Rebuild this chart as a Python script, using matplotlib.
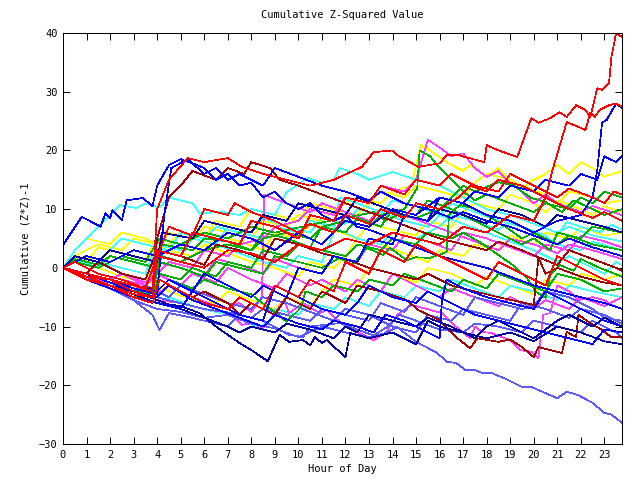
import matplotlib
matplotlib.use('Agg')
import matplotlib.pyplot as plt

# each walk: hours of the vertices and cumulative (Z*Z)-1 values
red1_h = [0, 1, 2, 3, 3.8, 4, 4.5, 5.3, 6, 7, 7.6, 8.5, 9.5, 10.5, 11.5, 12.7, 13.2, 14, 14.2, 15.1, 16, 16.3, 16.8, 17.9, 18, 18.5, 19.3, 19.9, 20.2, 20.7, 21.1, 21.4, 21.8, 22.2, 22.4, 22.7, 22.9, 23.2, 23.3, 23.5, 23.75]
red1_v = [0, -1, -2, -3, -4, 10, 15, 18.7, 18, 18.7, 17.2, 16, 15, 14, 15, 17.2, 19.7, 20, 19.2, 17.2, 17.8, 19.2, 19.2, 18, 20.9, 20, 18.9, 25.5, 24.7, 25.5, 26.5, 25.7, 27.7, 26.9, 25.7, 30.6, 30.3, 31.5, 35.9, 40, 39.3]
red2_h = [0, 1, 2, 3, 3.8, 4, 5, 6, 7, 8, 9, 10, 11, 12, 13, 14, 15, 16, 17, 18, 19, 20, 20.5, 20.8, 21.4, 21.9, 22.2, 22.4, 22.6, 22.8, 23.2, 23.5, 23.75]
red2_v = [0, -1.5, -2, -4, -5, 2, 1, 0, 3, 2.5, 1, 4, 3, 5, 4, 6, 5, 4, 7, 6, 9, 8, 12, 16.7, 24.8, 24, 23.5, 26.4, 25.7, 26.9, 27.7, 28, 27.5]
red3_h = [0, 1, 2, 3, 3.8, 4, 5, 5.5, 6.5, 7.5, 8, 9, 10, 10.5, 11.5, 12, 13, 13.5, 14.5, 15, 16, 16.5, 17.5, 18.5, 19, 20, 21, 21.5, 22.5, 23, 23.4, 23.75]
red3_v = [0, -2, -3, -4.5, -5, 3, 2, 6, 5, 4, 8, 7, 5, 9, 8, 12, 11, 14, 12.5, 15, 14, 16, 14, 13, 16, 14, 12, 13.5, 12, 11, 13, 12.5]
red4_h = [0, 1, 2, 3, 3.8, 4.1, 5, 6, 7, 7.5, 8.5, 9, 10, 10.5, 11.5, 12, 13, 13.5, 14.5, 15, 16, 17, 18, 18.5, 19.5, 20.5, 21, 22, 23, 23.75]
red4_v = [0, -1.5, -3, -5, -6, -2, -4, -6, -7, -5, -7, -3, -5, -2, -4, 1, -1, 3, 1, 4, 2, 0, -2, 1, -1, -3, 2, 0, -2, -3]
red5_h = [0, 0.5, 1.5, 2.5, 3.5, 4, 4.5, 5.5, 6, 7, 7.3, 8, 9, 10, 10.5, 11.5, 12, 13, 13.5, 14.5, 15, 16, 16.8, 17.3, 18, 18.5, 19.5, 20.5, 21.5, 22.5, 23, 23.75]
red5_v = [0, 1, -1, -2, -3.5, 2, 7, 5.5, 10, 9, 11, 9.5, 8, 6, 7.5, 6, 9, 7.5, 10, 8.5, 11, 10, 12, 14, 13, 15, 14, 12, 10, 8.5, 9.5, 8]

dred1_h = [0, 1, 2, 3, 4, 4.5, 5.5, 6, 7, 7.5, 8, 9, 9.5, 10.5, 11, 12, 12.5, 13.5, 14.6, 15.1, 16, 16.7, 17.3, 17.6, 18.5, 19, 19.5, 20, 20.2, 21.2, 21.4, 21.8, 21.9, 22.5, 22.8, 23.3, 23.75]
dred1_v = [0, -1, -2.5, -4, -5, -3, -5, -4, -6, -8, -6, -8, -5, -7, -4, -6, -3, -4, -5.5, -7.2, -8.9, -11.8, -13.7, -12, -12.6, -12.2, -13.5, -15.2, -13.5, -14.5, -10.9, -11.8, -8, -9.7, -10.3, -11.8, -11.8]
dred2_h = [0, 1, 2, 3, 3.8, 4, 4.5, 5, 5.5, 6.5, 7, 7.7, 8, 8.8, 9.2, 10, 11, 12, 13, 14, 15, 16, 17, 18, 18.5, 19.5, 20.2, 20.5, 21, 22, 23, 23.75]
dred2_v = [0, -1, -2, -3, -3.5, 5, 12, 14, 16.5, 15, 17, 16, 18, 17, 15, 14, 12.5, 11, 9.5, 8, 6.5, 5, 4, 3, 4.5, 3, 1.8, -1, 0, -1.5, -2.5, -3]
dred3_h = [0, 1, 1.5, 2.5, 3.5, 4, 5, 6, 6.5, 7.5, 8.5, 9, 10, 11, 12, 13, 14, 15, 15.5, 16.5, 17.5, 18.5, 20, 20.2, 21, 21.5, 22.5, 23.5, 23.75]
dred3_v = [0, -1, 1, -1, -2, 3, 2, 0.5, 4, 3, 1.5, 5, 4, 2.5, 1.5, 0, -1, -2, -1, -3, -4, -5, -6.3, 1.8, 0.5, 3, 1.5, 0, -0.5]

blue1_h = [0, 1, 2, 3, 4, 5, 6, 7, 8, 9, 10, 11, 12, 13, 14, 15, 16, 17, 18, 19, 20, 21, 22, 22.5, 22.7, 22.9, 23.1, 23.5, 23.75]
blue1_v = [0, 2, 1, 3, 2, 4, 3, 6, 5, 3, 6, 4, 8, 7, 10, 9, 12, 11, 9, 8, 6, 8, 9, 12, 16.7, 24.7, 25.2, 28, 27.2]
blue2_h = [0, 0.8, 1.6, 1.8, 2, 2.1, 2.5, 2.7, 3.4, 3.8, 4, 4.5, 5, 5.5, 6, 6.5, 7, 7.5, 8, 8.5, 9, 9.5, 10, 10.5, 11, 11.5, 12, 12.5, 13, 14, 15, 16, 17, 18, 19, 20, 21, 22, 23, 23.75]
blue2_v = [3.9, 8.7, 7, 9.3, 8.5, 9.8, 8.1, 11.5, 11.9, 10.5, 14, 17.5, 18.5, 17.8, 17, 15, 16, 14, 14.5, 12, 13, 11, 10, 11, 9, 8, 9, 7, 6.5, 5, 3.5, 2, 1, 0, -1.5, -3, -4, -5, -6, -7]
blue3_h = [0, 1, 2, 3, 4, 4.3, 4.6, 5.3, 6, 6.5, 7, 7.5, 8.5, 9, 10, 11, 12, 13, 13.5, 14.5, 15.5, 16.5, 17, 18, 19, 20, 21, 21.5, 22.5, 23.75]
blue3_v = [0, -1, -2, -3.5, -4.5, 9, 17, 18.5, 16, 17, 15, 16, 14, 17, 15.5, 14, 13, 11.5, 13, 11, 10, 8.5, 9.5, 8, 7, 5.5, 4, 5, 3.5, 2]
blue4_h = [0, 1, 2, 3, 4, 4.5, 5.5, 6, 7, 8, 8.5, 9.5, 10, 11, 11.5, 12.5, 13, 14, 14.5, 15.5, 16, 17, 17.5, 18.5, 19, 20, 20.5, 21.5, 22, 22.7, 23, 23.5, 23.75]
blue4_v = [0, -1, -2, -3, -4, -2, -4, -1, -3, -5, -3, -5, 0, -1, 2, 1, 5, 4, 9, 8, 12, 11, 13, 12, 14, 13, 15, 14, 16, 15, 19, 18, 19]
blue5_h = [0, 1, 2, 3, 4, 5, 5.5, 6.5, 7.5, 8.5, 9, 10, 11, 12, 12.5, 13, 14, 15, 15.5, 16.5, 17.5, 18.5, 19.5, 20.5, 21.5, 22.5, 23, 23.75]
blue5_v = [0, -2, -3.5, -5, -6, -7, -4, -6, -8, -9, -3, -5, -7, -8, -6, -3, -5, -6, -4, -6, -8, -9, -10, -11, -12, -13, -10.5, -11]
blue6_h = [0, 1, 2, 3, 4, 4.5, 5.5, 6.5, 7.5, 8.5, 9, 10, 11, 11.5, 12.5, 13.2, 13.7, 14.5, 15.5, 16, 16.1, 16.3, 17, 18, 19, 20, 20.5, 21.5, 22.5, 23, 23.75]
blue6_v = [0, -1, -2.5, -4, -5, -3, -5.5, -7, -8.5, -10, -8, -9.5, -10.5, -9, -10, -11, -8, -9, -11, -12, -5.5, -2, -3.5, -5, -6, -7, -4, -6, -8, -9, -10]

dblue1_h = [0, 1, 2, 3, 4, 5, 5.8, 6.5, 7.5, 8, 8.7, 9.2, 9.6, 10.2, 10.5, 10.7, 11, 11.2, 11.75, 12, 12.2, 13, 14, 15, 15.5, 16, 17, 18, 19, 20, 21, 22, 23, 23.75]
dblue1_v = [0, -1.5, -3, -4.5, -6, -6.5, -7.7, -10, -12.8, -14, -15.9, -11.4, -12.6, -12.3, -13.2, -11.8, -12.8, -12.3, -14.3, -15.2, -11.1, -12, -11, -13, -9, -10, -11, -12, -11, -12.5, -10, -11, -12.5, -13]
dblue2_h = [0, 1, 2, 3, 4, 5, 6, 7, 7.5, 8, 9, 9.5, 10.5, 11.5, 12, 12.5, 13, 14, 15, 15.5, 16.5, 17.5, 18, 18.5, 19.5, 20, 20.5, 21, 21.5, 22.5, 23, 23.75]
dblue2_v = [0, -1.5, -3, -4, -5.5, -7, -8.5, -10, -11, -10, -11, -9.5, -10.5, -12, -10, -11, -8, -9, -10, -8.5, -10, -12, -10, -9, -11, -12, -10.5, -9, -8, -10, -8.5, -10]
dblue3_h = [0, 0.5, 1.5, 2, 3, 4, 4.2, 5.5, 6, 7, 8, 8.5, 9.5, 10, 11, 12, 12.5, 13.5, 14.5, 15.5, 16, 17, 18, 18.5, 19.5, 20.5, 21, 22, 23, 23.75]
dblue3_v = [0, 2, 1, 3, 2, 1, 6, 5, 8, 7, 6, 9, 8, 11, 10, 9, 12, 10.5, 9, 8, 10, 9, 7.5, 10, 9, 7, 9, 8, 7, 6]

lblue1_h = [0, 1, 2, 3, 4, 5, 6, 7, 8, 9, 10, 11, 12, 13, 13.7, 14.2, 15, 15.9, 16.3, 16.7, 17.1, 17.5, 17.8, 18.2, 18.75, 19.5, 19.9, 21, 21.4, 21.9, 22.5, 23, 23.3, 23.75]
lblue1_v = [0, -2, -3.5, -5.5, -7, -7.5, -8.5, -8, -9.5, -10.3, -11.8, -10, -11, -11.8, -11.1, -10.1, -12.6, -14.5, -16, -16.2, -17.4, -17.4, -17.9, -17.9, -18.8, -20.3, -20.3, -22.2, -21.1, -21.7, -23, -24.7, -25, -26.4]
lblue2_h = [0, 1, 2, 3, 3.8, 4.1, 4.5, 5.5, 6.5, 7, 7.5, 8.5, 9.1, 9.6, 10.2, 10.5, 11.75, 12.5, 13.2, 13.8, 14.3, 15, 16, 17, 17.5, 18.5, 19.5, 20, 21, 22, 22.5, 23.5, 23.75]
lblue2_v = [0, -1.5, -3.5, -5.5, -8, -10.6, -7.7, -8.5, -9.5, -10, -8, -9, -10.3, -11.4, -11.8, -10, -9.4, -10.5, -11.5, -10, -8, -9, -10.5, -11, -9.5, -10, -11, -9, -10, -11, -9, -11, -12]
lblue3_h = [0, 1, 2, 3, 4, 5, 6, 7.2, 8, 8.5, 9.5, 10.5, 11, 12, 13, 13.5, 14.5, 15, 16, 17, 17.5, 18.5, 19.5, 20, 20.5, 21.5, 22.5, 23, 23.75]
lblue3_v = [0, -1, -2, -4, -5, -6, -7, -7.7, -8.5, -7, -8, -9, -7, -8, -9, -6, -7.5, -5, -6.5, -8, -5, -6, -7, -6.5, -4, -5, -7, -8.5, -9]
lblue4_h = [0, 1, 2, 3, 3.5, 4.5, 5, 6, 7, 8, 8.5, 9.5, 10.5, 11.5, 12, 13, 14, 15, 15.5, 16.5, 17, 18, 19, 19.5, 20.5, 21.5, 22, 23, 23.75]
lblue4_v = [0, -2, -3, -4, -3, -5, -3, -4.5, -6, -7, -5, -6, -7.5, -9, -7, -8, -10, -11, -8, -9, -7, -8, -9, -6, -7, -8.5, -7, -8, -9.5]

green1_h = [0, 1, 2, 3, 3.8, 4, 4.2, 5, 6, 7, 8, 8.5, 9.5, 10.5, 11, 12, 13, 13.5, 14.5, 15.05, 15.15, 15.6, 16, 16.5, 17, 17.5, 18, 19, 20, 20.5, 21.5, 22, 22.5, 23, 23.75]
green1_v = [0, -1, -2, -3, -4, 0, 2, 1, 3, 4, 3, 5, 6, 5, 7, 8, 7, 9, 10, 13.6, 20, 19, 17, 15, 13, 11.5, 12.5, 11, 9.5, 11, 10, 12, 11, 13, 12]
green2_h = [0, 1, 2, 3, 4, 4.5, 5.5, 6, 7, 8, 8.3, 9, 9.5, 10.1, 10.3, 11, 11.5, 12.5, 13, 14, 14.5, 15.5, 16.5, 17, 18, 18.5, 19.5, 20.5, 21, 22, 23, 23.75]
green2_v = [0, -2, -3.5, -5, -4, -2, -3.5, -2, -3.5, -4.5, -5.5, -7.5, -9.2, -6.8, -4, -5, -3, -4, -2, -3, -1, -2.5, -4, -2, -3.5, -1, -2.5, -4, -1, -2, -4, -3.5]
green3_h = [0, 0.5, 1.5, 2, 3, 4, 4.2, 5.5, 6, 7, 8, 8.5, 9.5, 10.5, 11, 12, 12.5, 13.5, 14, 15, 15.5, 16.5, 17.5, 18.5, 19.5, 20, 20.7, 21, 22, 22.5, 23.75]
green3_v = [0, 1.5, 0.5, 2, 1, 0, 4, 3, 5, 4.5, 3, 6, 5, 3.5, 7, 6, 8.5, 7, 10, 9, 11.5, 10, 8, 6, 4, 5, 3, 6, 5, 7, 6]
green4_h = [0, 1, 2, 3, 3.8, 4.1, 5, 6, 6.5, 7.5, 8.5, 9, 10, 11, 11.75, 12.3, 12.9, 13.6, 13.9, 14.6, 15, 15.6, 16.3, 16.4, 16.85, 17.4, 18, 18.8, 19.5, 20, 21, 21.5, 22.5, 23.75]
green4_v = [0, -1, -2.5, -3, -4, 1, 0, -1.5, 1, 0, -1, 2, 1, 0, 1.7, 0.5, 3.4, 2.2, 3.4, 1.3, 1.8, 1.7, 2.7, 9, 10.7, 10.2, 9, 7, 5, 6, 4, 5.5, 4, 3]
green5_h = [0, 0.5, 1.5, 2.5, 3.5, 4.1, 5, 6, 7, 8, 9, 11.9, 12.6, 13.2, 13.7, 14.2, 15, 16, 16.5, 17, 17.5, 18.5, 19.1, 19.9, 20.5, 21.2, 21.7, 22.5, 23, 23.75]
green5_v = [0, 1, 0, 2, 1, 5, 4, 6, 5, 7, 6, 8.5, 9, 9.5, 8, 9, 8.5, 10, 12, 14, 13, 14.6, 14.1, 11.9, 11.2, 9.5, 11.5, 10, 9, 10]
green6_h = [0, 1, 2, 3, 3.8, 4.1, 5, 5.5, 6.5, 7, 8, 8.5, 9.5, 10, 11, 12, 12.5, 13.5, 14, 15, 15.5, 16.5, 17, 17.7, 18.5, 19.1, 19.7, 20.1, 20.5, 20.7, 21.1, 21.7, 22, 22.8, 23.75]
green6_v = [0, -1, -2, -3.5, -5, -1, -2, 0, -1.5, 1, 0, 3, 2, 4, 3, 2, 4, 3, 5, 4, 6, 5, 6, 4.4, 2.2, 0.5, -1.7, -4.1, -5.1, -1.2, 0.5, -0.5, 1.5, 0, -1.5]

cyan1_h = [0, 0.5, 1, 1.5, 2.4, 3.1, 3.5, 4.1, 4.5, 5.5, 5.8, 6.8, 7.5, 8, 9, 9.5, 10.4, 11, 11.5, 11.75, 12.5, 13, 14, 15, 16, 17, 18, 19, 20, 21, 21.5, 22.5, 23.75]
cyan1_v = [0, 3, 5, 7, 10.7, 10.2, 11, 10.3, 12, 11, 9.3, 9.5, 9, 10, 9, 12.9, 15.3, 14.5, 15, 17, 16, 15, 16.3, 15, 14, 12, 10, 9, 7.5, 6, 7, 5.5, 4.5]
cyan2_h = [0, 1, 1.5, 2.5, 3.5, 4, 5, 5.5, 6.5, 7.5, 8.5, 9.5, 10, 11, 11.5, 11.75, 12.5, 13.5, 14.5, 15.5, 16, 17, 18, 19, 20, 21, 21.5, 22.5, 23, 23.5, 23.75]
cyan2_v = [0, -1, 1, 0, -1, 4, 3, 5, 4, 2.5, 1, 0, 2, 1, 6, 12, 11, 9.5, 8, 7, 9, 7.5, 6, 4.5, 3, 1, 2, 0, -1, 1, 0.5]
cyan3_h = [0, 1, 2, 3, 4, 4.5, 5.5, 6.5, 7.5, 8.3, 8.8, 9, 10, 10.5, 11.5, 12, 13, 13.5, 14.5, 15, 16, 16.5, 17.5, 18.5, 19, 20, 21, 21.5, 22.5, 23.75]
cyan3_v = [0, -1.5, -3, -4.5, -6, -5, -6.5, -7.5, -8.5, -10.2, -9, -7, -8, -6, -7, -5, -6.5, -4, -5, -3, -4, -2, -3.5, -5, -3, -4, -5.5, -3, -4, -5]
cyan4_h = [0, 0.5, 1.5, 2, 2.5, 3.5, 4.5, 5, 6, 6.5, 7.5, 8.5, 9, 10, 10.5, 11.5, 12.5, 13.5, 14, 15, 16, 16.5, 17.5, 18.5, 19, 20, 21, 22, 22.5, 23.75]
cyan4_v = [0, 2, 1, 3, 5, 4, 3, 6, 5, 7, 6, 5, 7, 6, 8, 7, 5, 4, 6, 5, 7, 9, 8, 6.5, 8, 6, 4, 3, 4.5, 3]
cyan5_h = [0, 0.5, 1.5, 2, 3, 3.8, 4.2, 5, 5.5, 6.5, 7, 8, 8.5, 9.5, 10.5, 11, 12, 12.5, 13.5, 14, 15, 16, 16.5, 17.5, 18.5, 19.5, 20.5, 20.8, 21.4, 22, 22.8, 23.3, 23.75]
cyan5_v = [0, 1.5, 0, 2, 1, 0, 3, 2, 5, 4, 7, 6, 8.5, 7, 6, 8.5, 7.5, 10, 9, 11.5, 10.5, 9, 11, 9.5, 8, 7, 5.5, 4.4, 7.8, 7, 6.1, 7.3, 6.5]

mag1_h = [0, 0.5, 1.5, 2.5, 3.5, 4, 4.5, 5.5, 6, 7, 7.5, 8.5, 9, 10, 10.5, 11.5, 12, 13, 13.5, 14.5, 15, 15.5, 16, 16.5, 17, 17.5, 18, 18.5, 19, 19.5, 20, 20.5, 21, 22, 22.5, 23.75]
mag1_v = [0, 1, -1, -2, -3, -1, 1, 0, 3, 2, 4, 5, 7, 8, 10, 9, 12, 11, 14, 13, 15, 21.8, 20.5, 19, 19.5, 17, 15.5, 16.5, 14.5, 13, 11, 12.5, 11, 9.5, 10.5, 9]
mag2_h = [0, 1, 2, 3, 4, 4.5, 5.5, 6.5, 7, 7.5, 8, 8.45, 8.55, 9.5, 10.5, 11, 12, 13, 13.5, 14.5, 15.5, 16.5, 17.5, 18.5, 19, 20, 21, 21.5, 22.5, 23.75]
mag2_v = [0, -1, -2.5, -3, -4.5, -3, -5, -6.5, -7, -6, -7.5, -5, 12.4, 11, 9.5, 11, 9.5, 8, 10, 9, 7.5, 6, 4.5, 3, 5, 4, 2.5, 4, 3, 1.5]
mag3_h = [0, 1, 2, 3, 4, 5, 6, 7.1, 7.6, 8.1, 8.5, 8.8, 9.4, 9.6, 10.2, 10.9, 11.2, 11.75, 12.6, 13.2, 13.7, 14.2, 14.8, 16.1, 16.7, 17.3, 17.5, 17.8, 18.2, 19, 19.4, 19.9, 20.2, 20.4, 20.7, 21, 21.5, 21.9, 22.5, 23, 23.3, 23.75]
mag3_v = [0, -1.5, -2.5, -4, -5.5, -6, -7, -7.7, -9.7, -9.4, -10.3, -8.9, -5.5, -7.7, -6, -7.7, -7.2, -9.2, -11.1, -12.3, -11.1, -8, -6.3, -7.7, -10, -12, -10, -10.9, -11.1, -12.3, -14, -14.3, -15.4, -8, -7.7, -3, -4, -5.5, -5, -5.5, -6.3, -7]
mag4_h = [0, 1, 1.5, 2.5, 3.5, 4, 5, 5.5, 6.5, 7, 8, 9, 9.5, 10.5, 11, 12, 12.5, 13.5, 14, 15, 16, 16.5, 17.5, 18.5, 19, 20, 20.5, 21.5, 22, 23, 23.75]
mag4_v = [0, -1, 1, -1, -2.5, -1, -3, -1, -2.5, 0, -2, -3.5, -1, -3, -2, -4, -2, -4, -1, -3, -5, -3.5, -5, -6.5, -5, -7, -5.5, -7, -5, -6.5, -5]
mag5_h = [0, 1, 2, 2.5, 3.5, 4, 5, 6, 6.5, 7.5, 8.5, 9, 10, 11, 11.5, 12.5, 13, 14, 14.5, 15.5, 16.5, 17, 18, 19, 20, 20.5, 21.5, 22, 23, 23.75]
mag5_v = [0, -1, -2, -1, -3, 1, 0, -1.5, 1.5, 0.5, -1, 1.5, 0, -1, 2, 1, 4, 3, 5.5, 4.5, 3, 6, 5, 3.5, 2, 4, 3, 5.5, 4.5, 3.5]

yel1_h = [0, 0.5, 1.5, 2.5, 3, 4, 4.5, 5.5, 6, 7, 8, 8.5, 9.5, 10, 11, 11.5, 12.5, 13.5, 14, 14.8, 15.2, 15.6, 16.3, 17, 17.3, 18, 18.5, 19, 19.5, 20, 20.5, 21, 21.5, 22, 22.5, 23, 23.75]
yel1_v = [0, 2, 4, 3, 5, 4, 6, 5, 7, 6, 5, 8, 7, 9, 8, 10, 12, 11, 13, 14, 20.9, 20, 18, 16.5, 17.5, 15.5, 17, 15, 13.5, 15, 16, 17.5, 16, 18, 17, 15.5, 16.5]
yel2_h = [0, 0.5, 1, 2, 2.5, 3.5, 4.5, 5.5, 6, 7, 8, 9, 10, 10.5, 11.5, 12, 12.5, 13.5, 14.5, 15.5, 16, 17, 17.5, 18.5, 19, 20, 20.5, 21.5, 22, 23, 23.75]
yel2_v = [0, 3, 5, 4, 6, 5, 3, 2, 4, 2.5, 1, 0, -1.5, 1, 0, 2, 5, 4, 2.5, 1, 3, 2, 4, 3, 5.5, 4, 6, 5, 7, 5.5, 6]
yel3_h = [0, 1, 2, 3, 3.5, 4.5, 5.5, 6.5, 7, 8, 9, 9.5, 10.5, 11, 11.5, 12.5, 13, 14, 15, 15.5, 16.5, 17.5, 18, 19, 20, 20.5, 21.5, 22, 23, 23.75]
yel3_v = [0, -1, -2, -3.5, -2, -4, -5.5, -6, -4, -5.5, -7, -5, -6.5, -4, -2, -3, 0, -1, -2.5, 0, -1, -3, -1.5, -3, -4.5, -2, -3, -1, -2, -1]
yel4_h = [0, 0.5, 1.5, 2.5, 3.5, 4.2, 5, 6, 6.5, 7.5, 8, 9, 10, 10.5, 11.5, 12.5, 13, 13.5, 14.5, 15, 16, 17, 17.5, 18, 19, 19.5, 20.5, 21, 21.5, 22.5, 23, 23.75]
yel4_v = [0, 1, 0, -1.5, -2.5, 3, 6, 5, 8, 7, 10, 9, 8, 11, 10, 9, 11, 13, 12, 14, 13, 12, 14.5, 16, 15, 14, 12.5, 11, 13, 12, 11, 11.5]
yel5_h = [0, 0.5, 1, 1.5, 2.5, 3.5, 4, 5, 6, 6.5, 7.5, 8.5, 9, 10, 10.5, 11.5, 12.5, 13, 14, 15, 15.5, 16.5, 17, 17.5, 18.5, 19, 20, 20.5, 21, 22, 22.5, 23, 23.75]
yel5_v = [0, 2, 1, 3.5, 2.5, 1.5, 5, 4, 3, 5.5, 4.5, 3, 6, 5, 7.5, 6.5, 5, 7.5, 6.5, 5.5, 8, 7, 9.5, 11, 10, 12.5, 11, 9.5, 11.5, 10, 9, 10.5, 9.5]

RED, DRED = '#ff0000', '#a00000'
BLUE, DBLUE, LBLUE = '#0000ff', '#0000a0', '#5a5aff'
GREEN, CYAN, MAG, YEL = '#00b000', '#40ffff', '#ff40ff', '#ffff00'

walks = [
    (yel1_h, yel1_v, YEL), (yel2_h, yel2_v, YEL), (yel3_h, yel3_v, YEL), (yel4_h, yel4_v, YEL), (yel5_h, yel5_v, YEL),
    (cyan1_h, cyan1_v, CYAN), (cyan2_h, cyan2_v, CYAN), (cyan3_h, cyan3_v, CYAN), (cyan4_h, cyan4_v, CYAN), (cyan5_h, cyan5_v, CYAN),
    (mag1_h, mag1_v, MAG), (mag2_h, mag2_v, MAG), (mag3_h, mag3_v, MAG), (mag4_h, mag4_v, MAG), (mag5_h, mag5_v, MAG),
    (lblue1_h, lblue1_v, LBLUE), (lblue2_h, lblue2_v, LBLUE), (lblue3_h, lblue3_v, LBLUE), (lblue4_h, lblue4_v, LBLUE),
    (green1_h, green1_v, GREEN), (green2_h, green2_v, GREEN), (green3_h, green3_v, GREEN),
    (green4_h, green4_v, GREEN), (green5_h, green5_v, GREEN), (green6_h, green6_v, GREEN),
    (dred1_h, dred1_v, DRED), (dred2_h, dred2_v, DRED), (dred3_h, dred3_v, DRED),
    (dblue1_h, dblue1_v, DBLUE), (dblue2_h, dblue2_v, DBLUE), (dblue3_h, dblue3_v, DBLUE),
    (blue1_h, blue1_v, BLUE), (blue2_h, blue2_v, BLUE), (blue3_h, blue3_v, BLUE),
    (blue4_h, blue4_v, BLUE), (blue5_h, blue5_v, BLUE), (blue6_h, blue6_v, BLUE),
    (red1_h, red1_v, RED), (red2_h, red2_v, RED), (red3_h, red3_v, RED),
    (red4_h, red4_v, RED), (red5_h, red5_v, RED),
]

plt.rcParams['font.family'] = 'DejaVu Sans Mono'
plt.rcParams['font.size'] = 7.5

fig = plt.figure(figsize=(6.4, 4.8), dpi=100)
ax = fig.add_axes([63 / 640, 36 / 480, 559 / 640, 411 / 480])

for hours, vals, col in walks:
    ax.plot(hours, vals, color=col, linewidth=0.5, antialiased=False)

ax.set_xlim(0, 23.75)
ax.set_ylim(-30, 40)
ax.set_xticks(range(24))
ax.set_yticks(range(-30, 41, 10))
ax.tick_params(direction='in', length=5, width=0.7, top=True, right=True, pad=4)
for s in ax.spines.values():
    s.set_linewidth(0.75)

ax.set_title('Cumulative Z-Squared Value', fontsize=7.5, pad=11)
ax.set_xlabel('Hour of Day', labelpad=3)
ax.set_ylabel('Cumulative (Z*Z)-1', labelpad=6)

plt.savefig('out.png', dpi=100)
plt.close()
